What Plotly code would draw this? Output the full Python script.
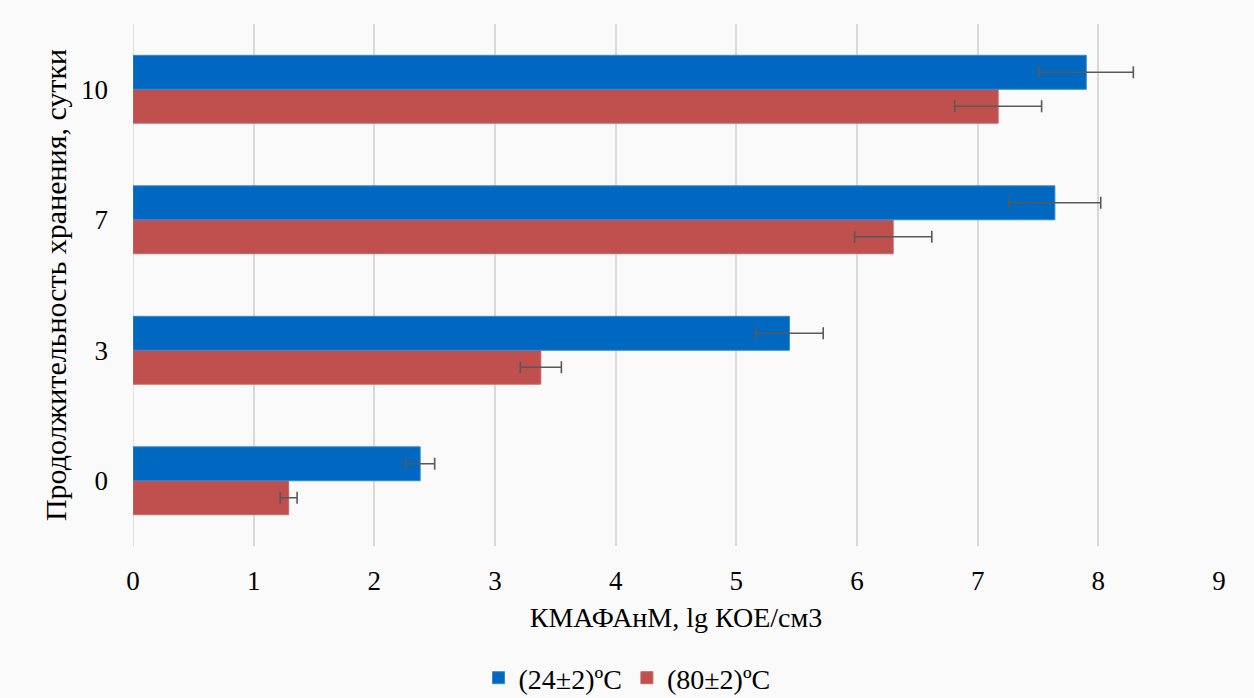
import plotly.graph_objects as go

days = ["0", "3", "7", "10"]
vals_24 = [2.38, 5.44, 7.64, 7.90]
err_24 = [0.12, 0.28, 0.38, 0.39]
vals_80 = [1.29, 3.38, 6.30, 7.17]
err_80 = [0.07, 0.17, 0.32, 0.36]
series_names = ["(24±2)ºC", "(80±2)ºC"]
x_ticks = [0, 1, 2, 3, 4, 5, 6, 7, 8, 9]

FONT = "Liberation Serif"
err_style = dict(type="data", color="#595959", thickness=1.6, width=6)

fig = go.Figure()
fig.add_trace(go.Bar(
    y=days, x=vals_80, orientation="h", name=series_names[1],
    marker=dict(color="#c0504d", line=dict(color="#c86562", width=1)),
    error_x=dict(array=err_80, **err_style), legendrank=2,
))
fig.add_trace(go.Bar(
    y=days, x=vals_24, orientation="h", name=series_names[0],
    marker=dict(color="#0068c0", line=dict(color="#3a88cc", width=1)),
    error_x=dict(array=err_24, **err_style), legendrank=1,
))

fig.update_layout(
    width=1254, height=698,
    margin=dict(l=133, r=35, t=24, b=152, autoexpand=False),
    paper_bgcolor="#fafafa", plot_bgcolor="#fafafa",
    barmode="group", bargap=0.48, bargroupgap=0,
    font=dict(family=FONT, size=27, color="#000000"),
    showlegend=True,
    legend=dict(orientation="h", xref="container", x=0.5, xanchor="center",
                yref="container", y=1 - 678 / 698, yanchor="middle",
                font=dict(family=FONT, size=28), itemwidth=30, tracegroupgap=0,
                bgcolor="rgba(0,0,0,0)"),
    xaxis=dict(
        range=[0, 9], tickvals=x_ticks, ticktext=[str(t) for t in x_ticks],
        showgrid=True, gridcolor="#d9d9d9", gridwidth=1.5,
        zeroline=False, showline=False, ticks="", automargin=False,
        ticklabelstandoff=16,
        tickfont=dict(family=FONT, size=27),
        title=dict(text="КМАФАнМ, lg КОЕ/см3", font=dict(family=FONT, size=28), standoff=12),
    ),
    yaxis=dict(
        type="category", categoryorder="array", categoryarray=days,
        showgrid=False, zeroline=False, showline=False, ticks="", automargin=False,
        ticklabelstandoff=24,
        tickfont=dict(family=FONT, size=27),
        title=dict(text="Продолжительность хранения, сутки", font=dict(family=FONT, size=30), standoff=5),
    ),
)
fig.add_shape(type="line", xref="x", yref="paper", x0=0, x1=0, y0=0, y1=1,
              line=dict(color="#d9d9d9", width=1.5), layer="below")

fig.write_html("out.html")
